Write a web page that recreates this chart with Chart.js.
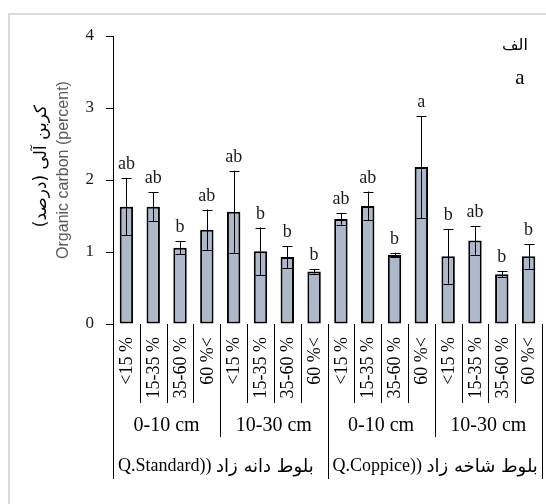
<!DOCTYPE html>
<html lang="fa">
<head>
<meta charset="UTF-8">
<title>Organic carbon</title>
<script src="https://cdn.jsdelivr.net/npm/chart.js"></script>
<style>
  body { margin: 0; background: #fff; }
  #wrap { position: relative; width: 546px; height: 504px; }
</style>
</head>
<body>
<div id="wrap"><canvas id="chart" width="546" height="504"></canvas></div>
<script>
// slope classes, soil depths and stand types (three levels of the x axis)
const slopeClasses = ['<15 %', '15-35 %', '35-60 %', '60 %<'];
const depths = ['0-10 cm', '10-30 cm'];
const groupsLatin = ['Q.Standard))', 'Q.Coppice))'];
const groupsPersian = ['بلوط دانه زاد', 'بلوط شاخه زاد'];

// mean organic carbon (%) and error, one per bar
const values = [1.63, 1.63, 1.06, 1.31, 1.56, 1.01, 0.93, 0.73,
                1.46, 1.64, 0.96, 2.18, 0.94, 1.16, 0.69, 0.94];
const errors = [0.40, 0.20, 0.09, 0.28, 0.57, 0.33, 0.15, 0.03,
                0.08, 0.20, 0.03, 0.71, 0.38, 0.20, 0.04, 0.17];
const letters = ['ab', 'ab', 'b', 'ab', 'ab', 'b', 'b', 'b',
                 'ab', 'ab', 'b', 'a', 'b', 'ab', 'b', 'b'];

const yTicks = [0, 1, 2, 3, 4];

// one label per bar
const labels = [];
groupsLatin.forEach(g => depths.forEach(d => slopeClasses.forEach(s => labels.push(g + ' ' + d + ' ' + s))));

const SERIF = "'Liberation Serif', 'Times New Roman', serif";

// error bars + letters
const errorBars = {
  id: 'errorBars',
  afterDatasetsDraw(chart) {
    const ctx = chart.ctx;
    const y = chart.scales.y;
    const meta = chart.getDatasetMeta(0);
    ctx.save();
    ctx.strokeStyle = '#000';
    ctx.lineWidth = 1;
    meta.data.forEach((bar, i) => {
      const top = y.getPixelForValue(values[i] + errors[i]);
      const bot = y.getPixelForValue(values[i] - errors[i]);
      const x = Math.round(bar.x) + 0.5;
      ctx.beginPath();
      ctx.moveTo(x, top); ctx.lineTo(x, bot);
      ctx.moveTo(x - 5, Math.round(top) + 0.5); ctx.lineTo(x + 5, Math.round(top) + 0.5);
      ctx.moveTo(x - 5, Math.round(bot) + 0.5); ctx.lineTo(x + 5, Math.round(bot) + 0.5);
      ctx.stroke();
      ctx.fillStyle = '#1a1a1a';
      ctx.font = '18px ' + SERIF;
      ctx.textAlign = 'center';
      ctx.textBaseline = 'alphabetic';
      ctx.fillText(letters[i], bar.x, top - 9);
    });
    ctx.restore();
  }
};

// multi-level category table, axis titles, frame
const decorations = {
  id: 'decorations',
  beforeDraw(chart) {
    const ctx = chart.ctx;
    ctx.save();
    ctx.fillStyle = '#fff';
    ctx.fillRect(0, 0, chart.width, chart.height);
    ctx.strokeStyle = '#d9d9d9';
    ctx.lineWidth = 2;
    ctx.beginPath();
    ctx.moveTo(9, 600); ctx.lineTo(9, 14); ctx.lineTo(600, 14);
    ctx.stroke();
    ctx.restore();
  },
  afterDraw(chart) {
    const ctx = chart.ctx;
    const xs = chart.scales.x;
    const area = chart.chartArea;
    const half = (xs.getPixelForValue(1) - xs.getPixelForValue(0)) / 2;
    const base = area.bottom;
    const n = labels.length;
    ctx.save();
    ctx.strokeStyle = '#000';
    ctx.lineWidth = 1;
    // dividers
    for (let i = 0; i <= n; i++) {
      const x = Math.round(i < n ? xs.getPixelForValue(i) - half : xs.getPixelForValue(n - 1) + half) + 0.5;
      let len = 403;
      if (i % 8 === 0) len = 479;
      else if (i % 4 === 0) len = 437;
      ctx.beginPath();
      ctx.moveTo(x, base); ctx.lineTo(x, len);
      ctx.stroke();
    }
    ctx.fillStyle = '#000';
    // rotated slope labels
    ctx.font = '18px ' + SERIF;
    ctx.textAlign = 'right';
    ctx.textBaseline = 'middle';
    for (let i = 0; i < n; i++) {
      ctx.save();
      ctx.translate(xs.getPixelForValue(i) + 1, base + 13);
      ctx.rotate(-Math.PI / 2);
      ctx.fillText(slopeClasses[i % 4], 0, 0);
      ctx.restore();
    }
    // depth labels
    ctx.textAlign = 'center';
    ctx.font = '20px ' + SERIF;
    for (let k = 0; k < 4; k++) {
      const cx = (xs.getPixelForValue(k * 4) + xs.getPixelForValue(k * 4 + 3)) / 2;
      ctx.fillText(depths[k % 2], cx, 426);
    }
    // stand type labels (clipped to their cell)
    for (let g = 0; g < 2; g++) {
      const left = xs.getPixelForValue(g * 8) - half;
      const right = xs.getPixelForValue(g * 8 + 7) + half;
      ctx.save();
      ctx.beginPath();
      ctx.rect(left + 1, 445, right - left - 1, 40);
      ctx.clip();
      ctx.textAlign = 'left';
      ctx.font = '18px ' + SERIF;
      ctx.fillText(groupsLatin[g], left + 5, 466);
      const w = ctx.measureText(groupsLatin[g] + ' ').width;
      ctx.font = "18px 'DejaVu Sans', sans-serif";
      ctx.direction = 'rtl';
      ctx.textAlign = 'left';
      ctx.fillText(groupsPersian[g], left + 5 + w, 467);
      ctx.restore();
    }
    // y axis titles
    ctx.save();
    ctx.translate(42, 166);
    ctx.rotate(-Math.PI / 2);
    ctx.textAlign = 'center';
    ctx.direction = 'rtl';
    ctx.font = "17px 'DejaVu Sans', sans-serif";
    ctx.fillStyle = '#000';
    ctx.fillText('کربن آلی (درصد)', 0, 0);
    ctx.restore();
    ctx.save();
    ctx.translate(64, 170);
    ctx.rotate(-Math.PI / 2);
    ctx.textAlign = 'center';
    ctx.font = "16px 'Liberation Sans', Arial, sans-serif";
    ctx.fillStyle = '#595959';
    ctx.fillText('Organic carbon (percent)', 0, 0);
    ctx.restore();
    // panel marks
    ctx.textAlign = 'center';
    ctx.fillStyle = '#000';
    ctx.font = "16px 'DejaVu Sans', sans-serif";
    ctx.direction = 'rtl';
    ctx.fillText('الف', 515, 46);
    ctx.direction = 'ltr';
    ctx.font = '21px ' + SERIF;
    ctx.fillText('a', 520, 78);
    ctx.restore();
  }
};

const chart = new Chart(document.getElementById('chart').getContext('2d'), {
  type: 'bar',
  data: {
    labels: labels,
    datasets: [{
      data: values,
      backgroundColor: '#adb9ca',
      borderColor: '#000',
      borderWidth: 2,
      borderSkipped: false,
      barPercentage: 0.5,
      categoryPercentage: 1
    }]
  },
  options: {
    responsive: false,
    animation: false,
    layout: { padding: { top: 36, right: 4, bottom: 180, left: 0 } },
    plugins: { legend: { display: false }, tooltip: { enabled: false } },
    scales: {
      x: { display: false },
      y: {
        min: 0,
        max: 4,
        afterFit(scale) { scale.width = 113; },
        afterBuildTicks(scale) { scale.ticks = yTicks.map(v => ({ value: v })); },
        ticks: { padding: 12, color: '#1a1a1a', font: { family: SERIF, size: 17 } },
        grid: { drawOnChartArea: false, tickLength: 7, color: '#000' },
        border: { display: true, color: '#000', width: 1 }
      }
    }
  },
  plugins: [errorBars, decorations]
});
</script>
</body>
</html>
